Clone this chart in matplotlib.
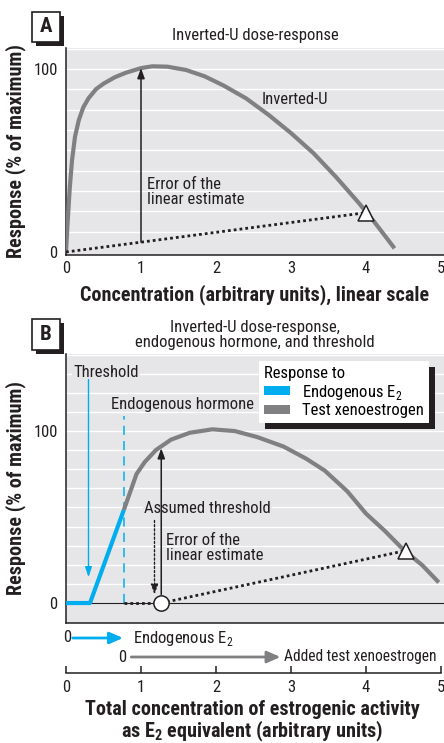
import matplotlib
matplotlib.use("Agg")
import matplotlib.pyplot as plt
import matplotlib.font_manager as fm
import matplotlib.transforms as mtransforms
from matplotlib.patches import Rectangle, Patch

def pick(names):
    for n in names:
        try:
            fm.findfont(fm.FontProperties(family=n), fallback_to_default=False)
            return n
        except Exception:
            pass
    return "DejaVu Sans"

FONT = pick(["Liberation Sans Narrow", "Roboto Condensed", "Open Sans Condensed", "Liberation Sans"])
plt.rcParams["font.family"] = [FONT, "DejaVu Sans"]
plt.rcParams["mathtext.fontset"] = "custom"
plt.rcParams["mathtext.rm"] = FONT
plt.rcParams["mathtext.bf"] = FONT + ":bold"

# ---------------- data ----------------
# Panel A: inverted-U curve
a_x = [0, 0.02, 0.05, 0.08, 0.12, 0.17, 0.23, 0.3, 0.4, 0.5, 0.65, 0.8, 1.0, 1.15,
       1.35, 1.6, 1.85, 2.1, 2.4, 2.7, 3.0, 3.3, 3.6, 3.9, 4.1, 4.25, 4.38]
a_y = [0, 15, 35, 50, 63, 72, 79, 84, 89, 92, 95.5, 98, 100.5, 101.5,
       101.3, 99.5, 96, 91, 84, 75, 65, 54, 41, 27, 17, 9, 2]
a_lin_x = [0, 4.0]
a_lin_y = [0, 21.5]
a_err_x = 1.0
a_err_y = [5.4, 100.5]

# Panel B
e2_x = [0, 0.32, 0.77]
e2_y = [0, 0, 54]
xe_x = [0.77, 0.94, 1.05, 1.2, 1.4, 1.65, 1.95, 2.25, 2.55, 2.9, 3.2, 3.45, 3.75,
        4.0, 4.25, 4.5, 4.75, 4.97]
xe_y = [54, 75, 82, 89, 95, 99, 101, 100, 96.5, 91, 84, 77, 65,
        52, 42, 31, 22, 12]
b_thr_x = 1.27
b_lin_x = [1.27, 4.53]
b_lin_y = [0, 30.5]
b_flat_x = [0.77, 1.27]
b_flat_y = [0, 0]
b_endo_x = 0.77
b_endo_top = 109
b_threshold_arrow_x = 0.30
b_threshold_arrow_y = [130, 15]
b_err_y = [5, 90]
b_assumed_x = 1.18
b_assumed_y = [48, 5]

xticks = [0, 1, 2, 3, 4, 5]
yticks = [0, 100]
grid_levels = [100 * k / 9 for k in range(0, 14)]

BG = "#e6e6e8"
GRAY = "#808082"
BLUE = "#00aeef"
TXT = "#231f20"
FS = 12
FSB = 14.5

W, H = 444, 743
fig = plt.figure(figsize=(W / 100, H / 100), dpi=100)

def fx(px):
    return px / W

def fy(py):
    return 1 - py / H

def setup(ax, ylim):
    ax.set_facecolor(BG)
    ax.set_xlim(0, 5.04)
    ax.set_ylim(*ylim)
    for s in ["top", "right"]:
        ax.spines[s].set_visible(False)
    for s in ["left", "bottom"]:
        ax.spines[s].set_linewidth(1.1)
        ax.spines[s].set_color(TXT)
    for g in grid_levels:
        if ylim[0] < g < ylim[1] and g > 0.5:
            ax.axhline(g, color="white", lw=1.0, zorder=0.5)
    ax.set_yticks(yticks)
    ax.tick_params(axis="y", length=0, pad=6, labelsize=FS, colors=TXT)
    ax.tick_params(axis="x", length=0, labelsize=FS, colors=TXT)

def panel_box(letter, x0, y0, x1, y1):
    sh = Rectangle((fx(x0 + 4), fy(y1 + 4)), fx(x1 - x0), (y1 - y0) / H,
                   transform=fig.transFigure, facecolor=TXT, edgecolor="none", zorder=5)
    bx = Rectangle((fx(x0), fy(y1)), fx(x1 - x0), (y1 - y0) / H,
                   transform=fig.transFigure, facecolor="white", edgecolor=TXT,
                   lw=1.2, zorder=6)
    fig.patches.extend([sh, bx])
    fig.text(fx((x0 + x1) / 2), fy((y0 + y1) / 2), letter, ha="center", va="center",
             fontsize=15, fontweight="bold", color=TXT, zorder=7)

# ---------------- Panel A ----------------
axA = fig.add_axes([fx(66), fy(255), fx(444 - 66), (255 - 48) / H])
setup(axA, (-1.64, 111.5))
axA.set_xticks(xticks)
axA.tick_params(axis="x", pad=4)
axA.plot(a_x, a_y, color=GRAY, lw=3.0, solid_capstyle="butt", zorder=3)
axA.plot(a_lin_x, a_lin_y, color=TXT, lw=2.0, ls=(0, (1, 1.1)), zorder=3)
axA.plot([a_lin_x[1]], [a_lin_y[1]], marker="^", ms=11, mfc="white", mec=TXT, mew=1.1, zorder=4)
axA.annotate("", xy=(a_err_x, a_err_y[1]), xytext=(a_err_x, a_err_y[0]),
             arrowprops=dict(arrowstyle="-|>,head_length=0.6,head_width=0.22",
                             color=TXT, lw=1.1, shrinkA=0, shrinkB=0), zorder=4)
axA.text(1.08, 41, "Error of the\nlinear estimate", fontsize=FS, color=TXT,
         va="top", ha="left", linespacing=1.0)
axA.text(2.61, 83.5, "Inverted-U", fontsize=FS, color=TXT, va="center", ha="left")
axA.set_title("Inverted-U dose-response", fontsize=FS, color=TXT, pad=6)
axA.set_ylabel("Response (% of maximum)", fontsize=FSB, fontweight="bold", color=TXT, labelpad=5)
axA.set_xlabel("Concentration (arbitrary units), linear scale", fontsize=FSB,
               fontweight="bold", color=TXT, labelpad=6)
panel_box("A", 32, 12, 60, 42)

# ---------------- Panel B ----------------
axB = fig.add_axes([fx(66), fy(623), fx(444 - 66), (623 - 354) / H])
setup(axB, (-11.6, 144.8))
axB.set_xticks([])
axB.axhline(0, color=TXT, lw=0.8, zorder=1)
bbox_bg = dict(facecolor=BG, edgecolor="none", pad=1.0)

axB.plot(xe_x, xe_y, color=GRAY, lw=3.0, solid_capstyle="butt", zorder=3,
         label="Test xenoestrogen")
axB.plot(e2_x, e2_y, color=BLUE, lw=3.0, solid_capstyle="butt", zorder=3,
         label="Endogenous E$_2$")
axB.plot([b_endo_x, b_endo_x], [0, b_endo_top], color=BLUE, lw=1.1, ls=(0, (6, 4)), zorder=2)
axB.plot(b_flat_x, b_flat_y, color=TXT, lw=2.0, ls=(0, (1, 1.1)), zorder=3)
axB.plot(b_lin_x, b_lin_y, color=TXT, lw=2.0, ls=(0, (1, 1.1)), zorder=3)
axB.plot([b_lin_x[1]], [b_lin_y[1]], marker="^", ms=11, mfc="white", mec=TXT, mew=1.1, zorder=4)
axB.plot([b_thr_x], [0], marker="o", ms=11, mfc="white", mec=TXT, mew=1.1, zorder=5)
axB.annotate("", xy=(b_threshold_arrow_x, b_threshold_arrow_y[1]),
             xytext=(b_threshold_arrow_x, b_threshold_arrow_y[0]),
             arrowprops=dict(arrowstyle="-|>,head_length=0.6,head_width=0.2",
                             color=BLUE, lw=1.0, shrinkA=0, shrinkB=0), zorder=4)
axB.annotate("", xy=(b_thr_x, b_err_y[1]), xytext=(b_thr_x, b_err_y[0]),
             arrowprops=dict(arrowstyle="-|>,head_length=0.6,head_width=0.22",
                             color=TXT, lw=1.1, shrinkA=0, shrinkB=0), zorder=4)
axB.annotate("", xy=(b_assumed_x, b_assumed_y[1]), xytext=(b_assumed_x, b_assumed_y[0]),
             arrowprops=dict(arrowstyle="-|>,head_length=0.6,head_width=0.22",
                             color=TXT, lw=1.0, ls=(0, (1.5, 1.5)), shrinkA=0, shrinkB=0),
             zorder=4)
axB.text(0.1, 134, "Threshold", fontsize=FS, color=TXT, va="center", ha="left", bbox=bbox_bg, zorder=2)
axB.text(0.6, 115.7, "Endogenous hormone", fontsize=FS, color=TXT, va="center", ha="left", zorder=2)
axB.text(1.04, 55, "Assumed threshold", fontsize=FS, color=TXT, va="center", ha="left",
         bbox=bbox_bg, zorder=2)
axB.text(1.33, 41, "Error of the\nlinear estimate", fontsize=FS, color=TXT,
         va="top", ha="left", linespacing=1.0, zorder=2)
axB.set_title("Inverted-U dose-response,\nendogenous hormone, and threshold",
              fontsize=FS, color=TXT, pad=5, linespacing=1.0)
axB.set_ylabel("Response (% of maximum)", fontsize=FSB, fontweight="bold", color=TXT, labelpad=5)

handles = [Patch(facecolor=BLUE, edgecolor="none"), Patch(facecolor=GRAY, edgecolor="none")]
labels = ["Endogenous E$_2$", "Test xenoestrogen"]
leg = axB.legend(handles, labels, title="Response to", loc="upper right",
                 bbox_to_anchor=(fx(429 - 66) / fx(378), 1 - (361 - 354) / 269),
                 fontsize=FS, title_fontsize=FS, alignment="left",
                 frameon=True, fancybox=False, framealpha=1, edgecolor="white",
                 handlelength=1.6, handleheight=0.45, handletextpad=0.7,
                 borderpad=0.3, labelspacing=0.1, borderaxespad=0)
leg.get_frame().set_linewidth(0)
leg.set_zorder(8)
fig.canvas.draw()
bb = leg.get_window_extent()
shadow = Rectangle((bb.x0 + 6, bb.y0 - 6), bb.width, bb.height, transform=None,
                   facecolor=TXT, edgecolor="none", zorder=7)
axB.add_artist(shadow)

# labels below panel B
trans = mtransforms.blended_transform_factory(axB.transData, fig.transFigure)
axB.text(0.02, fy(638), "0", transform=trans, ha="center", va="center", fontsize=FS,
         color=TXT, clip_on=False)
axB.annotate("", xy=(0.76, fy(638)), xytext=(0.09, fy(638)), xycoords=trans, textcoords=trans,
             arrowprops=dict(arrowstyle="-|>,head_length=0.8,head_width=0.35", color=BLUE,
                             lw=2.0, shrinkA=0, shrinkB=0), annotation_clip=False)
axB.text(0.89, fy(638), "Endogenous E$_2$", transform=trans, ha="left", va="center",
         fontsize=FS, color=TXT, clip_on=False)
axB.text(0.75, fy(657), "0", transform=trans, ha="center", va="center", fontsize=FS,
         color=TXT, clip_on=False)
axB.annotate("", xy=(2.86, fy(657)), xytext=(0.87, fy(657)), xycoords=trans, textcoords=trans,
             arrowprops=dict(arrowstyle="-|>,head_length=0.8,head_width=0.35", color=GRAY,
                             lw=2.0, shrinkA=0, shrinkB=0), annotation_clip=False)
axB.text(2.90, fy(657), "Added test xenoestrogen", transform=trans, ha="left", va="center",
         fontsize=11.2, color=TXT, clip_on=False)

# secondary x axis for panel B
axC = fig.add_axes([fx(66), fy(673), fx(444 - 66), 0.0001])
axC.set_xlim(0, 5.04)
axC.patch.set_visible(False)
for s in ["top", "right", "left"]:
    axC.spines[s].set_visible(False)
axC.spines["bottom"].set_bounds(0, 5)
axC.spines["bottom"].set_linewidth(1.1)
axC.spines["bottom"].set_color(TXT)
axC.set_yticks([])
axC.set_xticks(xticks)
axC.tick_params(axis="x", direction="in", length=5, width=1.1, pad=5, labelsize=FS, colors=TXT)
fig.text(fx(252), fy(722),
         "Total concentration of estrogenic activity\nas E$_\\mathbf{2}$ equivalent (arbitrary units)",
         fontsize=FSB, fontweight="bold", color=TXT, ha="center", va="center",
         multialignment="center", linespacing=1.0)
panel_box("B", 32, 319, 60, 350)

fig.savefig("out.png", dpi=100)
